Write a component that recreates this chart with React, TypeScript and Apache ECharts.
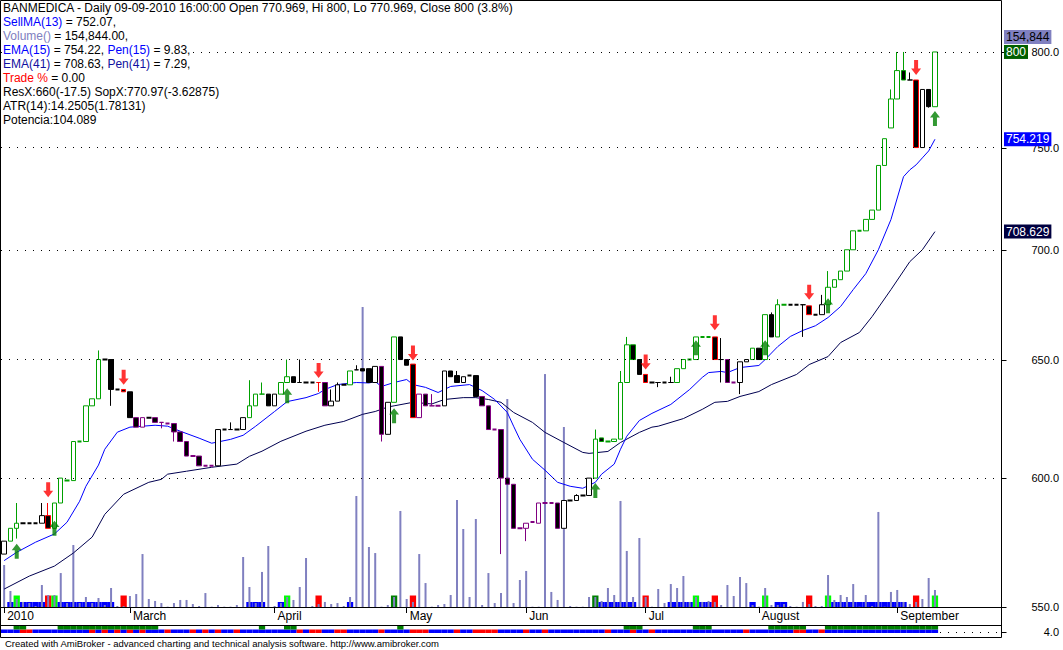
import React, { useEffect, useRef } from 'react';
import * as echarts from 'echarts';

const FF = "'Liberation Sans', Arial, Helvetica, sans-serif";
const TOTAL_SLOTS = 159;

// ---------- data ----------
const monthTicks = [
  { index: 0, label: '2010' }, { index: 20, label: 'March' }, { index: 43, label: 'April' },
  { index: 64, label: 'May' }, { index: 83, label: 'Jun' }, { index: 102, label: 'Jul' },
  { index: 120, label: 'August' }, { index: 142, label: 'September' },
];
const priceTicks = [550, 600, 650, 700, 750, 800];
const gridPrices = [600, 650, 700, 750, 800];

// [open, close, low, high]
const ohlc = [
  [570, 575, 570, 575], [575, 580, 575, 580], [580, 582, 576, 590], [582, 582, 582, 582], [582, 582, 582, 582],
  [582, 582, 582, 582], [582, 585, 582, 590], [585, 580, 580, 590], [580, 590, 580, 590], [590, 600, 590, 600],
  [599, 599, 599, 599], [599, 615, 599, 615], [615, 615, 615, 615], [615, 630, 615, 630], [630, 633, 630, 633],
  [633, 650, 633, 654], [650, 650, 650, 650], [650, 637, 630, 650], [637, 637, 637, 637], [637, 636, 636, 637],
  [636, 625, 625, 636], [625, 621, 621, 625], [621, 625, 621, 625], [625, 625, 625, 625], [625, 623, 623, 625],
  [623, 623, 620.5, 623], [622.5, 622.5, 622.5, 622.5], [622.5, 619, 615, 622.5], [619, 615, 615, 619], [615, 609, 609, 615],
  [609, 609, 609, 609], [609, 605, 605, 609], [605, 605, 605, 605], [605, 605, 605, 605], [605, 620, 605, 620],
  [620, 620, 620, 620], [620, 620, 620, 623], [620, 620, 620, 620], [620, 625, 620, 625], [625, 630, 625, 641],
  [630, 635, 630, 635], [635, 635, 635, 640], [635, 630, 630, 635], [630, 635, 630, 635], [635, 640, 635, 640],
  [640, 642.5, 640, 650], [642.5, 640, 640, 642.5], [640, 640, 640, 650], [640, 640, 640, 640], [640, 640, 640, 640],
  [640, 640, 636, 640], [640, 630, 630, 640], [630, 632, 630, 637], [632, 639, 632, 640], [639, 639, 639, 639],
  [639, 645, 639, 645], [645.5, 645.5, 645.5, 647.5], [646, 645, 645, 646], [646, 640, 640, 646], [640, 647, 640, 647],
  [647, 618, 615, 647], [618, 631.5, 618, 631.5], [631.5, 660, 631.5, 660], [660, 650, 650, 660], [650, 647.5, 647.5, 650],
  [648, 625, 625, 648], [625, 635, 625, 635], [635, 630, 630, 635], [630, 630, 630, 635], [630, 630, 630, 630],
  [630, 645, 630, 645], [645, 642.5, 642.5, 645], [643, 640, 640, 645], [640, 642.5, 640, 642.5], [643, 643, 643, 643],
  [643, 634, 634, 643], [634, 630, 630, 634], [630, 620, 620, 630], [620, 620, 620, 620], [620, 600, 570, 620],
  [600, 597.5, 597.5, 600], [597.5, 580, 580, 597.5], [580, 580, 580, 580], [580, 582, 575, 582], [582.5, 582.5, 582.5, 582.5],
  [582, 590, 582, 590], [590, 590, 590, 590], [590, 590, 590, 590], [590, 580, 580, 590], [580, 591, 580, 591],
  [591, 591, 591, 591], [591, 593, 591, 593.5], [593, 593, 593, 593], [593, 600, 593, 600], [600, 616, 600, 620],
  [616.5, 615, 615, 616.5], [615, 615, 615, 615], [615, 616, 615, 616], [616, 640, 616, 645], [640, 656.5, 640, 660],
  [656.5, 650, 650, 656.5], [650, 643.5, 643.5, 650], [643.5, 640, 640, 643.5], [640, 640, 640, 640], [640, 640, 638, 640],
  [640, 640, 640, 640], [640, 640, 640, 642.5], [640, 646, 640, 646], [646, 650, 646, 650], [650, 650, 650, 650],
  [650, 660, 650, 660], [660, 660, 660, 660], [660, 660, 660, 660], [660, 650, 650, 660], [650, 650, 640, 659.5],
  [650, 640, 640, 650], [640, 640, 640, 640], [640, 649, 635, 649], [649, 650, 649, 650], [650, 655, 650, 655],
  [655, 650, 650, 655], [650, 670, 650, 670], [670, 660, 660, 671], [660, 674.5, 660, 677], [674.5, 674.5, 674.5, 674.5],
  [674.5, 674.5, 674.5, 674.5], [674.5, 674.5, 674.5, 674.5], [674.5, 674.5, 660, 674.5], [674, 670, 670, 674], [670, 670, 670, 670],
  [670, 674.5, 670, 679], [674.5, 682.5, 674.5, 690], [682.5, 686, 682.5, 686], [686, 690, 686, 690], [690, 700, 690, 700],
  [700, 709, 700, 709], [709, 709, 709, 709], [709, 714.5, 709, 714.5], [714.5, 719, 714.5, 719], [719, 741, 719, 741],
  [741, 754.5, 741, 754.5], [760, 775, 760, 780], [775, 790, 775, 800], [790, 785, 785, 800], [785, 785, 785, 789],
  [785, 750, 750, 785], [750, 780, 750, 780], [780, 771, 770.5, 780], [770.969, 800, 770.969, 800],
];
// outline colour per bar: k black, g green, p purple, r red
const outlineCodes =
  'kggkkkkrgg' + 'ggggggkkkr' + 'kppkpppppp' + 'ppppkkkkkg' + 'ggkkggkkkk' +
  'rpkkkgkkkk' + 'pkgkkrpppp' + 'kkkkkkpppp' + 'pppppppppk' + 'kkkkgggggg' +
  'gkrkkkkggg' + 'gggrkppkkg' + 'kgkggkkkrk' + 'kggggggggg' + 'ggggkrkkg';

// volume, thousands of shares
const volumeK = [
  382, 146, 73, 46, 36, 9, 200, 109, 109, 309,
  36, 564, 36, 91, 36, 82, 18, 173, 9, 9,
  100, 118, 482, 73, 55, 36, 3, 36, 64, 64,
  27, 9, 127, 3, 18, 3, 3, 18, 455, 182,
  36, 319, 555, 9, 36, 91, 64, 182, 446, 9,
  27, 46, 27, 36, 9, 91, 1010, 2730, 546, 491,
  3, 18, 91, 874, 73, 46, 482, 218, 3, 18,
  27, 109, 974, 710, 91, 801, 18, 309, 36, 127,
  1893, 36, 246, 328, 3, 3, 2120, 137, 64, 1638,
  9, 3, 3, 91, 91, 55, 173, 109, 965, 510,
  91, 628, 91, 3, 164, 36, 209, 173, 282, 46,
  91, 46, 55, 46, 18, 200, 100, 273, 218, 18,
  3, 173, 18, 18, 27, 9, 3, 46, 27, 9,
  9, 291, 64, 109, 91, 209, 3, 109, 9, 865,
  3, 137, 155, 46, 27, 46, 73, 264, 155,
];

// signal histogram: 0 none, 1 blue, 2 lime, 3 red, 4 dark green
const signalCodes =
  '0121111321' + '1111111103' + '0000000000' + '0000000001' + '1100120000' +
  '3000010000' + '0040030000' + '0000000000' + '0000000000' + '0000411111' +
  '1030001111' + '2113000001' + '0201100030' + '0211111111' + '111103002';
// ribbon: top row green (1) ; bottom row red (1) else blue
const ribbonTopCodes =
  '0011000001' + '1111111111' + '1111100000' + '0000000000' + '0100011000' +
  '0000000000' + '0001000000' + '0000000000' + '0000000000' + '0000000001' +
  '1100000000' + '1110000000' + '0011111100' + '0111111111' + '111111111';
const ribbonBottomCodes =
  '0001100000' + '0000101010' + '1010001000' + '1010100100' + '0000000101' +
  '1001100000' + '1000011100' + '0010011110' + '0001001000' + '0000001000' +
  '1001000000' + '0000000010' + '0000001100' + '1000000000' + '000000000';

const ema15Points = [
  [0, 567.5], [2, 570.7], [5, 574.6], [8, 577.8], [10, 582.4], [12, 590.7], [13, 596.7], [15, 605.3], [16, 611.8],
  [18, 618.9], [20, 621.0], [24, 621.8], [26, 621.4], [28, 619.3], [31, 616.4], [33, 614.3], [36, 615.9], [38, 617.6],
  [40, 621.4], [43, 627.6], [45, 631.8], [48, 633.5], [50, 635.3], [51, 637.0], [53, 639.1], [56, 640.0], [58, 639.8],
  [59, 640.4], [60, 638.3], [62, 640.0], [64, 641.3], [65, 639.1], [67, 637.9], [69, 635.7], [71, 638.3], [74, 639.1],
  [76, 636.5], [78, 632.7], [80, 627.2], [81, 621.4], [82, 615.9], [84, 607.7], [86, 603.2], [88, 598.3], [90, 596.7],
  [92, 595.9], [94, 598.3], [95, 601.6], [97, 605.7], [98, 611.8], [99, 617.2], [101, 623.8], [103, 626.8], [106, 630.6],
  [109, 637.0], [111, 642.2], [112, 644.3], [114, 644.8], [115, 644.3], [117, 646.5], [120, 647.4], [121, 650.0],
  [123, 655.7], [125, 660.2], [127, 662.9], [129, 665.0], [131, 668.7], [133, 673.7], [135, 681.4], [137, 688.8],
  [139, 700.0], [141, 714.4], [143, 735.4], [144, 738.8], [145, 741.3], [146, 744.8], [147, 748.3], [148, 754.22],
];
const ema41Points = [
  [0, 556.7], [4, 561.6], [8, 565.4], [11, 570.4], [14, 576.6], [16, 585.5], [19, 593.5], [23, 598.3], [25, 599.5],
  [26, 601.6], [29, 602.8], [33, 604.4], [37, 605.7], [39, 608.9], [41, 611.0], [44, 615.1], [48, 619.3], [51, 621.8],
  [54, 623.4], [57, 626.4], [59, 627.6], [61, 629.5], [62, 630.0], [65, 631.5], [68, 630.8], [70, 632.7], [73, 633.5],
  [75, 633.5], [77, 632.7], [79, 631.5], [81, 627.2], [84, 623.0], [86, 618.8], [89, 614.6], [92, 610.5], [93, 610.1],
  [96, 610.9], [98, 614.6], [101, 618.8], [103, 621.0], [104, 621.4], [108, 624.6], [111, 628.5], [113, 631.5],
  [115, 631.9], [117, 634.0], [120, 636.1], [122, 639.1], [126, 643.5], [128, 647.8], [131, 651.3], [133, 657.5],
  [136, 662.0], [138, 669.1], [141, 681.4], [144, 694.4], [146, 700.0], [148, 708.63],
];
// arrow tips [bar, price]
const buyArrows = [[2, 574], [8, 583], [45, 637.5], [62, 629], [94, 598], [110, 658.5], [121, 658.5], [131, 677.5], [148, 768.7]];
const sellArrows = [[7, 592.3], [19, 639], [50, 642], [65, 649.6], [102, 645.6], [113, 663], [128, 676.8], [145, 787.7]];

const titleLines = [
  'BANMEDICA - Daily 09-09-2010 16:00:00 Open 770.969, Hi 800, Lo 770.969, Close 800 (3.8%)',
  '{b|SellMA(13)} = 752.07,',
  '{v|Volume()} = 154,844.00,',
  '{b|EMA(15)} = 754.22, {b|Pen(15)} = 9.83,',
  '{n|EMA(41)} = 708.63, {n|Pen(41)} = 7.29,',
  '{r|Trade %} = 0.00',
  'ResX:660(-17.5) SopX:770.97(-3.62875)',
  'ATR(14):14.2505(1.78131)',
  'Potencia:104.089',
];
const footerText = 'Created with AmiBroker - advanced charting and technical analysis software. http://www.amibroker.com';
const lastVolumeLabel = '154,844';
const lastClose = 800;
const lastEma15 = 754.219;
const lastEma41 = 708.629;
const ribbonLevelLabel = 4;

// ---------- styling ----------
const OUTLINE: Record<string, string> = { k: '#000000', g: '#00a000', p: '#800080', r: '#ff0000' };
const SIGNAL_COLOR: Record<string, string> = { '1': '#0000ff', '2': '#00ff00', '3': '#ff0000', '4': '#008000' };
const UP_ARROW = 'path://M5,0 L10,6 L7,6 L7,14 L3,14 L3,6 L0,6 Z';
const DOWN_ARROW = 'path://M3,0 L7,0 L7,8 L10,8 L5,14 L0,8 L3,8 Z';

function buildOption() {
  const cats = Array.from({ length: TOTAL_SLOTS }, (_, i) => String(i));
  const labelMap: Record<number, string> = {};
  monthTicks.forEach((m) => { labelMap[m.index] = m.label; });
  const isTick = (i: number) => labelMap[i] !== undefined;

  const candleData = ohlc.map((d, i) => {
    const c = OUTLINE[outlineCodes[i]];
    const fill = d[1] < d[0] ? '#000000' : '#ffffff';
    const flat = d[0] === d[1] && d[2] === d[3] && d[0] === d[2];
    return {
      value: d,
      itemStyle: { color: fill, color0: fill, borderColor: c, borderColor0: c, borderColorDoji: c, borderWidth: flat ? 2 : 1 },
    };
  });
  const signalData = volumeK.map((_, i) => {
    const s = signalCodes[i];
    if (s === '0') return '-';
    return { value: s === '1' ? 1 : 2.3, itemStyle: { color: SIGNAL_COLOR[s] } };
  });
  const ribbonBase = volumeK.map(() => 3);
  const ribbonBottom = volumeK.map((_, i) => ({ value: 2.33, itemStyle: { color: ribbonBottomCodes[i] === '1' ? '#ff0000' : '#0000ff' } }));
  const ribbonTop = volumeK.map((_, i) => (ribbonTopCodes[i] === '1' ? 2.67 : '-'));

  return {
    animation: false,
    backgroundColor: '#ffffff',
    grid: [
      { left: 1, top: 1, width: 1000, height: 606 },
      { left: 1, top: 625.5, width: 1000, height: 12 },
    ],
    xAxis: [
      {
        type: 'category', gridIndex: 0, data: cats, boundaryGap: true,
        axisLine: { show: true, lineStyle: { color: '#000', width: 1 } },
        axisTick: { show: true, alignWithLabel: true, interval: isTick, length: 6, lineStyle: { color: '#000' } },
        axisLabel: {
          show: true, interval: isTick, formatter: (_v: string, i: number) => labelMap[i] || '',
          align: 'left', padding: [0, 0, 0, 3], margin: 3, fontSize: 12, fontFamily: FF, color: '#000',
        },
        splitLine: { show: false },
      },
      { type: 'category', gridIndex: 0, data: cats, show: false },
      { type: 'category', gridIndex: 0, data: cats, show: false },
      { type: 'category', gridIndex: 1, data: cats, show: false },
    ],
    yAxis: [
      { type: 'log', gridIndex: 0, min: 550, max: 828, position: 'right', axisLine: { show: false }, axisTick: { show: false }, axisLabel: { show: false }, splitLine: { show: false } },
      { type: 'value', gridIndex: 0, min: 0, max: 5515, show: false, splitLine: { show: false } },
      { type: 'value', gridIndex: 0, min: 0, max: 121.2, show: false, splitLine: { show: false } },
      { type: 'value', gridIndex: 1, min: 0, max: 8, show: false, splitLine: { show: false } },
    ],
    series: [
      {
        name: 'signal', type: 'bar', xAxisIndex: 2, yAxisIndex: 2, barWidth: '100%', z: 1, silent: true,
        data: signalData,
      },
      {
        name: 'Volume', type: 'bar', xAxisIndex: 1, yAxisIndex: 1, barWidth: 2, z: 2, silent: true,
        itemStyle: { color: '#8080c0' }, data: volumeK,
      },
      {
        name: 'EMA41', type: 'line', xAxisIndex: 0, yAxisIndex: 0, z: 3, showSymbol: false, silent: true,
        lineStyle: { color: '#000050', width: 1 }, data: ema41Points,
        markLine: {
          silent: true, symbol: ['none', 'none'], label: { show: false },
          lineStyle: { color: '#000', type: [1, 7], width: 1 },
          data: gridPrices.map((v) => ({ yAxis: v })),
        },
      },
      {
        name: 'EMA15', type: 'line', xAxisIndex: 0, yAxisIndex: 0, z: 3, showSymbol: false, silent: true,
        lineStyle: { color: '#0000ff', width: 1 }, data: ema15Points,
      },
      {
        name: 'Price', type: 'candlestick', xAxisIndex: 0, yAxisIndex: 0, z: 4, barWidth: 5, silent: true,
        itemStyle: { color: '#ffffff', color0: '#000000', borderWidth: 1 }, data: candleData,
      },
      {
        name: 'Buy', type: 'scatter', xAxisIndex: 0, yAxisIndex: 0, z: 5, silent: true,
        symbol: UP_ARROW, symbolSize: [10, 15], symbolOffset: [0, 7.5], itemStyle: { color: '#008000' }, data: buyArrows,
      },
      {
        name: 'Sell', type: 'scatter', xAxisIndex: 0, yAxisIndex: 0, z: 5, silent: true,
        symbol: DOWN_ARROW, symbolSize: [10, 15], symbolOffset: [0, -7.5], itemStyle: { color: '#ff0000' }, data: sellArrows,
      },
      { name: 'rbBase', type: 'bar', xAxisIndex: 3, yAxisIndex: 3, stack: 'rb', barWidth: '100%', silent: true, itemStyle: { color: 'rgba(0,0,0,0)' }, data: ribbonBase },
      { name: 'rbBottom', type: 'bar', xAxisIndex: 3, yAxisIndex: 3, stack: 'rb', barWidth: '100%', silent: true, data: ribbonBottom },
      { name: 'rbTop', type: 'bar', xAxisIndex: 3, yAxisIndex: 3, stack: 'rb', barWidth: '100%', silent: true, itemStyle: { color: '#008000' }, data: ribbonTop },
    ],
  };
}

function textEl(x: number, y: number, text: string, font: string, extra: any = {}, z = 60) {
  return {
    type: 'text', x, y, z, silent: true,
    style: Object.assign({ text, font, fill: '#000', align: 'left', verticalAlign: 'middle', textAlign: 'left', textVerticalAlign: 'middle' }, extra),
  };
}

function buildGraphics(py: (v: number) => number, ry: (v: number) => number) {
  const f12 = `12px ${FF}`;
  const f11 = `11px ${FF}`;
  const rich = {
    b: { fill: '#0000ff', color: '#0000ff', font: f12 },
    v: { fill: '#8080c0', color: '#8080c0', font: f12 },
    n: { fill: '#1010a0', color: '#1010a0', font: f12 },
    r: { fill: '#ff0000', color: '#ff0000', font: f12 },
  };
  const els: any[] = [];
  els.push({ type: 'rect', z: 50, silent: true, shape: { x: 0.5, y: 0.5, width: 1001, height: 637 }, style: { fill: 'rgba(0,0,0,0)', stroke: '#000', lineWidth: 1 } });
  els.push({ type: 'line', z: 50, silent: true, shape: { x1: 0.5, y1: 625.5, x2: 1001.5, y2: 625.5 }, style: { stroke: '#000', lineWidth: 1 } });

  titleLines.forEach((t, k) => {
    els.push(textEl(3, 7.5 + 14.05 * k, t, f12, { backgroundColor: '#ffffff', rich }));
  });
  els.push(textEl(5, 643.5, footerText, `9.5px ${FF}`));

  priceTicks.forEach((v) => {
    const y = Math.round(py(v)) + 0.5;
    els.push({ type: 'line', z: 55, silent: true, shape: { x1: 1001.5, y1: y, x2: 1006.5, y2: y }, style: { stroke: '#000', lineWidth: 1 } });
    els.push(textEl(1059, py(v), v.toFixed(1), f11, { align: 'right', textAlign: 'right' }, 55));
  });
  const ry4 = Math.round(ry(ribbonLevelLabel)) + 0.5;
  els.push({ type: 'line', z: 55, silent: true, shape: { x1: 1001.5, y1: ry4, x2: 1006.5, y2: ry4 }, style: { stroke: '#000', lineWidth: 1 } });
  els.push({ type: 'line', z: 55, silent: true, shape: { x1: 940, y1: ry4, x2: 1000, y2: ry4 }, style: { stroke: '#000', lineWidth: 1, lineDash: [1, 7] } });
  els.push(textEl(1059, ry(ribbonLevelLabel), ribbonLevelLabel.toFixed(1), f11, { align: 'right', textAlign: 'right' }, 55));

  const box = (y: number, text: string, bg: string, fg: string) =>
    textEl(1004, y, text, f12, { fill: fg, backgroundColor: bg, padding: [1, 2, 1, 2] }, 70);
  els.push(box(37, lastVolumeLabel, '#8080c0', '#000000'));
  els.push(box(py(lastClose), String(lastClose), '#006000', '#ffffff'));
  els.push(box(py(lastEma15), lastEma15.toFixed(3), '#0000ff', '#ffffff'));
  els.push(box(py(lastEma41), lastEma41.toFixed(3), '#000040', '#ffffff'));
  return els;
}

export default function App() {
  const ref = useRef<HTMLDivElement>(null);
  useEffect(() => {
    if (!ref.current) return;
    const chart = echarts.init(ref.current, null, { renderer: 'svg' });
    chart.setOption(buildOption() as any);
    const py = (v: number) => chart.convertToPixel({ yAxisIndex: 0 }, v) as number;
    const ry = (v: number) => chart.convertToPixel({ yAxisIndex: 3 }, v) as number;
    chart.setOption({ graphic: buildGraphics(py, ry) } as any);
    return () => chart.dispose();
  }, []);
  return (
    <div
      ref={ref}
      style={{ position: 'absolute', left: 0, top: 0, width: 1063, height: 650, background: '#ffffff' }}
    />
  );
}
